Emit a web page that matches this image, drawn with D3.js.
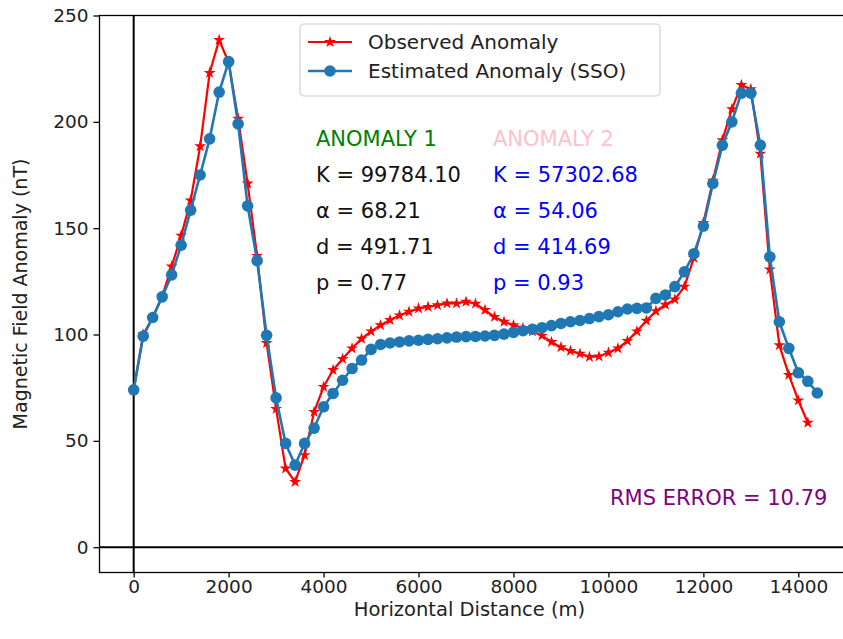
<!DOCTYPE html>
<html>
<head>
<meta charset="utf-8">
<script src="https://cdn.jsdelivr.net/npm/d3@7"></script>
<style>
    html, body { margin: 0; padding: 0; background: #fff; }
    svg { display: block; font-family: "DejaVu Sans", sans-serif; }
</style>
</head>
<body>
<svg id="chart" width="843" height="639"></svg>
<script>
// ------------------------------------------------------------
// Observed vs. estimated (SSO) magnetic anomaly profile
// ------------------------------------------------------------

var obsX = [0, 200, 400, 600, 800, 1000, 1200, 1400, 1600, 1800, 2000, 2200, 2400, 2600, 2800,
    3000, 3200, 3400, 3600, 3800, 4000, 4200, 4400, 4600, 4800, 5000, 5200, 5400, 5600, 5800,
    6000, 6200, 6400, 6600, 6800, 7000, 7200, 7400, 7600, 7800, 8000, 8200, 8400, 8600, 8800,
    9000, 9200, 9400, 9600, 9800, 10000, 10200, 10400, 10600, 10800, 11000, 11200, 11400, 11600, 11800,
    12000, 12200, 12400, 12600, 12800, 13000, 13200, 13400, 13600, 13800, 14000, 14200];
var obsY = [74, 100, 108, 118, 132, 146.5, 163, 188.5, 223, 238.5, 228, 201.5, 171, 137, 96,
    65, 37, 30.7, 43.3, 63.6, 75.4, 83.3, 88.5, 93.5, 98, 101.5, 104.4, 106.8, 109, 110.7,
    112.3, 113, 113.8, 114.6, 114.6, 115.4, 114.5, 111.5, 108.3, 106, 104.4, 103, 101.5, 99.5, 96.5,
    94, 92.3, 91, 89.5, 89.7, 91.5, 93.5, 97, 101.5, 106.5, 111, 114, 116.5, 122.5, 136,
    152.5, 172.3, 191.4, 206, 217.3, 215.3, 185, 130.6, 95, 81, 69, 58.5];

var estX = [0, 200, 400, 600, 800, 1000, 1200, 1400, 1600, 1800, 2000, 2200, 2400, 2600, 2800,
    3000, 3200, 3400, 3600, 3800, 4000, 4200, 4400, 4600, 4800, 5000, 5200, 5400, 5600, 5800,
    6000, 6200, 6400, 6600, 6800, 7000, 7200, 7400, 7600, 7800, 8000, 8200, 8400, 8600, 8800,
    9000, 9200, 9400, 9600, 9800, 10000, 10200, 10400, 10600, 10800, 11000, 11200, 11400, 11600, 11800,
    12000, 12200, 12400, 12600, 12800, 13000, 13200, 13400, 13600, 13800, 14000, 14200, 14400];
var estY = [74, 99.2, 108, 117.7, 128, 142, 158.5, 175, 192, 214, 228.3, 199, 160.5, 134.7, 99.6,
    70.2, 48.8, 38.6, 48.8, 56, 66, 72.3, 78.5, 84, 88, 93, 95.3, 96, 96.5, 97,
    97.3, 97.7, 98, 98.4, 98.8, 99, 99.1, 99.3, 99.6, 100.2, 101, 101.8, 102.5, 103.2, 104.2,
    105.2, 106, 106.6, 107.5, 108.4, 109.3, 110.7, 112, 112.3, 112.5, 117, 118.6, 122.5, 129.5, 138,
    151, 171, 189, 200, 213.5, 213.5, 189, 136.5, 106, 93.5, 82, 78, 72.5];

var xTicks = [0, 2000, 4000, 6000, 8000, 10000, 12000, 14000];
var yTicks = [0, 50, 100, 150, 200, 250];

var seriesNames = ['Observed Anomaly', 'Estimated Anomaly (SSO)'];
var anomaly1 = ['ANOMALY 1', 'K = 99784.10', 'α = 68.21', 'd = 491.71', 'p = 0.77'];
var anomaly2 = ['ANOMALY 2', 'K = 57302.68', 'α = 54.06', 'd = 414.69', 'p = 0.93'];
var rmsLabel = 'RMS ERROR = 10.79';

var RED = '#ff0000';
var BLUE = '#1f77b4';

var svg = d3.select('#chart');

// plot box; the right edge runs past the picture like in the source figure
var box = { left: 99.5, right: 851.5, top: 15.5, bottom: 572.5 };

var x = d3.scaleLinear().domain([-720, 15120]).range([box.left, box.right]);
var y = d3.scaleLinear().domain([-11.9, 250]).range([box.bottom, box.top]);

var FONT = 18.5;

/** Build [{x, y}] pairs from two parallel arrays. */
function pairs(xs, ys) {
    return xs.map(function (v, i) { return { x: v, y: ys[i] }; });
}

var obs = pairs(obsX, obsY);
var est = pairs(estX, estY);

// axvline / axhline at zero
svg.append('line')
    .attr('x1', x(0)).attr('x2', x(0))
    .attr('y1', box.top).attr('y2', box.bottom)
    .attr('stroke', '#000').attr('stroke-width', 2);
svg.append('line')
    .attr('x1', box.left).attr('x2', box.right)
    .attr('y1', y(0)).attr('y2', y(0))
    .attr('stroke', '#000').attr('stroke-width', 2);

var line = d3.line().x(function (d) { return x(d.x); }).y(function (d) { return y(d.y); });

var star = d3.symbol().type(d3.symbolStar).size(44);

function drawObserved(g, data) {
    g.append('path').datum(data)
        .attr('d', line)
        .attr('fill', 'none')
        .attr('stroke', RED)
        .attr('stroke-width', 2.2)
        .attr('stroke-linejoin', 'round');
    g.selectAll('path.mk').data(data).enter().append('path')
        .attr('class', 'mk')
        .attr('d', star)
        .attr('transform', function (d) { return 'translate(' + x(d.x) + ',' + y(d.y) + ')'; })
        .attr('fill', RED);
}

function drawEstimated(g, data) {
    g.append('path').datum(data)
        .attr('d', line)
        .attr('fill', 'none')
        .attr('stroke', BLUE)
        .attr('stroke-width', 2.6)
        .attr('stroke-linejoin', 'round');
    g.selectAll('circle').data(data).enter().append('circle')
        .attr('cx', function (d) { return x(d.x); })
        .attr('cy', function (d) { return y(d.y); })
        .attr('r', 5.8)
        .attr('fill', BLUE);
}

drawObserved(svg.append('g'), obs);
drawEstimated(svg.append('g'), est);

// frame (matplotlib spines)
svg.append('rect')
    .attr('x', box.left).attr('y', box.top)
    .attr('width', box.right - box.left).attr('height', box.bottom - box.top)
    .attr('fill', 'none').attr('stroke', '#000').attr('stroke-width', 1.3);

// axes
var xAxis = svg.append('g')
    .attr('transform', 'translate(0,' + box.bottom + ')')
    .call(d3.axisBottom(x).tickValues(xTicks).tickFormat(d3.format('d')).tickSize(5).tickPadding(2));
var yAxis = svg.append('g')
    .attr('transform', 'translate(' + box.left + ',0)')
    .call(d3.axisLeft(y).tickValues(yTicks).tickFormat(d3.format('d')).tickSize(6).tickPadding(5));

[xAxis, yAxis].forEach(function (ax) {
    ax.select('.domain').remove();
    ax.selectAll('line').attr('stroke', '#000').attr('stroke-width', 1.3);
    ax.selectAll('text')
        .attr('fill', '#222')
        .style('font-size', FONT + 'px')
        .style('font-family', '"DejaVu Sans", sans-serif');
});

svg.append('text')
    .attr('x', (box.left + box.right) / 2 - 6).attr('y', 609)
    .attr('dy', '0.36em')
    .attr('text-anchor', 'middle')
    .attr('fill', '#222')
    .style('font-size', '19.5px')
    .text('Horizontal Distance (m)');

svg.append('text')
    .attr('transform', 'translate(27,' + ((box.top + box.bottom) / 2) + ') rotate(-90)')
    .attr('text-anchor', 'middle')
    .attr('fill', '#222')
    .style('font-size', '19px')
    .text('Magnetic Field Anomaly (nT)');

// parameter annotations
var TXT = 21;
function column(lines, left, colors) {
    lines.forEach(function (s, i) {
        svg.append('text')
            .attr('x', left).attr('y', 138 + i * 36.2)
            .attr('dy', '0.36em')
            .attr('fill', colors[i])
            .style('font-size', TXT + 'px')
            .text(s);
    });
}
column(anomaly1, 316, ['green', '#111', '#111', '#111', '#111']);
column(anomaly2, 493, ['pink', 'blue', 'blue', 'blue', 'blue']);

svg.append('text')
    .attr('x', 610).attr('y', 497)
    .attr('dy', '0.36em')
    .attr('fill', 'purple')
    .style('font-size', TXT + 'px')
    .text(rmsLabel);

// legend
var leg = svg.append('g').attr('transform', 'translate(300,24)');
leg.append('rect')
    .attr('width', 360).attr('height', 72).attr('rx', 4)
    .attr('fill', '#fff').attr('fill-opacity', 0.8)
    .attr('stroke', '#d0d0d0').attr('stroke-width', 1.2);

var legRows = leg.selectAll('g.row').data(seriesNames).enter().append('g')
    .attr('class', 'row')
    .attr('transform', function (d, i) { return 'translate(0,' + (18 + i * 29) + ')'; });

legRows.append('line')
    .attr('x1', 8).attr('x2', 52)
    .attr('stroke', function (d, i) { return i ? BLUE : RED; })
    .attr('stroke-width', function (d, i) { return i ? 2.6 : 2.2; });
legRows.each(function (d, i) {
    var g = d3.select(this);
    if (i === 0) {
        g.append('path').attr('d', star).attr('transform', 'translate(30,0)').attr('fill', RED);
    } else {
        g.append('circle').attr('cx', 30).attr('r', 5.8).attr('fill', BLUE);
    }
});
legRows.append('text')
    .attr('x', 68).attr('dy', '0.36em')
    .attr('fill', '#222')
    .style('font-size', '20px')
    .text(function (d) { return d; });
</script>
</body>
</html>
